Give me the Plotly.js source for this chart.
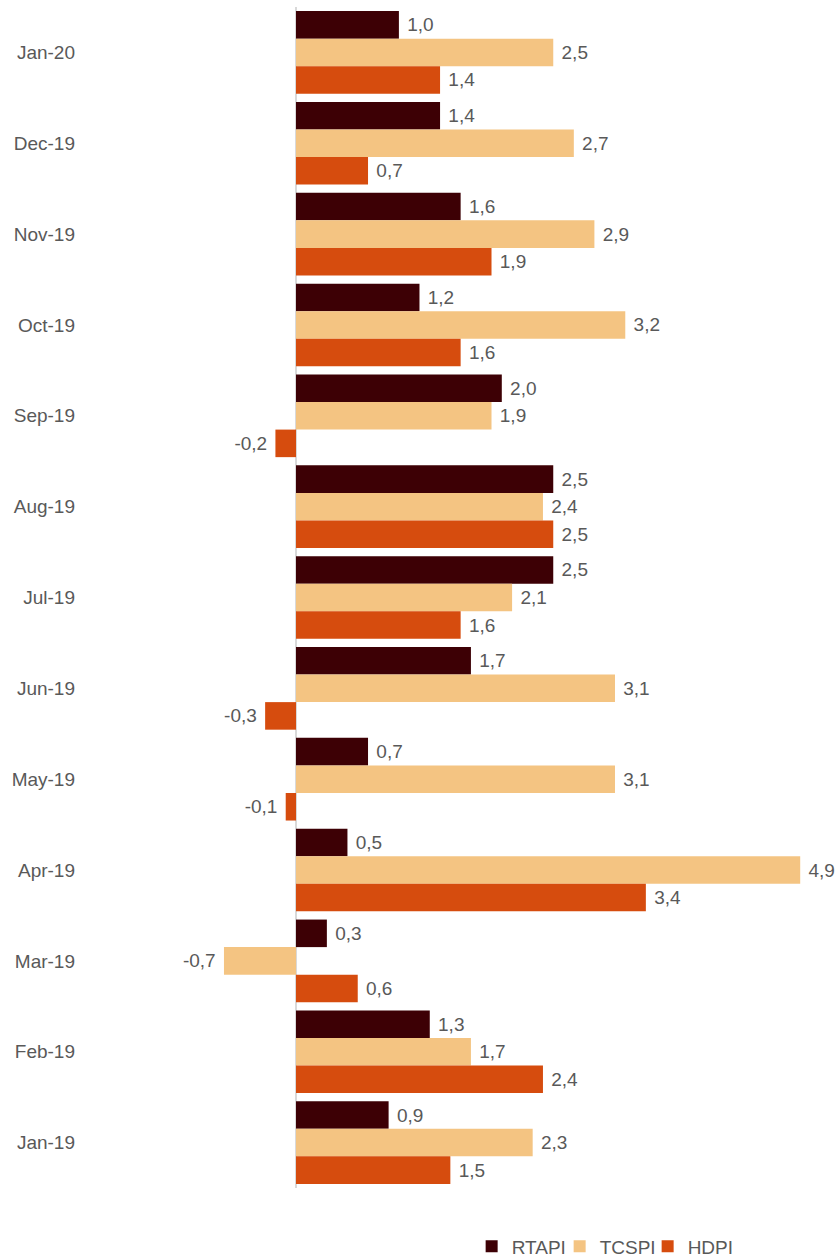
<!DOCTYPE html>
<html>
<head>
<meta charset="utf-8">
<script src="https://cdn.plot.ly/plotly-3.0.1.min.js"></script>
<style>html,body{margin:0;padding:0;background:#fff;}#chart{width:839px;height:1259px;}</style>
</head>
<body>
<div id="chart"></div>
<script>
const months = ["Jan-20","Dec-19","Nov-19","Oct-19","Sep-19","Aug-19","Jul-19","Jun-19","May-19","Apr-19","Mar-19","Feb-19","Jan-19"];
const rtapi = [1.0,1.4,1.6,1.2,2.0,2.5,2.5,1.7,0.7,0.5,0.3,1.3,0.9];
const tcspi = [2.5,2.7,2.9,3.2,1.9,2.4,2.1,3.1,3.1,4.9,-0.7,1.7,2.3];
const hdpi  = [1.4,0.7,1.9,1.6,-0.2,2.5,1.6,-0.3,-0.1,3.4,0.6,2.4,1.5];

function labels(vals){
  return vals.map(v => {
    const s = v.toFixed(1).replace('.', ',');
    return v < 0 ? s + '\u00a0' : '\u00a0' + s;
  });
}
function trace(name, vals, color){
  return {
    type:'bar', orientation:'h', name:name, y:months, x:vals,
    marker:{color:color},
    text:labels(vals), textposition:'outside', cliponaxis:false,
    constraintext:'none',
    textfont:{family:'Liberation Sans, Arial, sans-serif', size:19, color:'#595959'},
    hoverinfo:'x+y'
  };
}
const data = [
  trace('RTAPI', rtapi, '#3d0005'),
  trace('TCSPI', tcspi, '#f4c482'),
  trace('HDPI', hdpi, '#d64c0e')
];
const L = 80, Z = 296, S = 102.9, W = 839;
const layout = {
  width:839, height:1259,
  margin:{l:L, r:0, t:7, b:71, autoexpand:false},
  paper_bgcolor:'#fff', plot_bgcolor:'#fff',
  barmode:'group', bargap:0.09, bargroupgap:0,
  font:{family:'Liberation Sans, Arial, sans-serif', size:19, color:'#595959'},
  xaxis:{range:[-(Z-L)/S, (W-Z)/S], showgrid:false, showticklabels:false, zeroline:true, zerolinecolor:'#d9d9d9', zerolinewidth:2, showline:false, ticks:'', automargin:false},
  yaxis:{autorange:'reversed', showgrid:false, showline:false, ticks:'', ticklabelstandoff:4, automargin:false, tickfont:{size:19, color:'#595959'}},
  showlegend:true,
  legend:{orientation:'h', x:0.516, xanchor:'left', y:-0.0495, yanchor:'middle', font:{size:19, color:'#595959'}, itemwidth:30, entrywidth:43, traceorder:'normal'}
};
Plotly.newPlot('chart', data, layout, {displayModeBar:false, staticPlot:true});
</script>
</body>
</html>
